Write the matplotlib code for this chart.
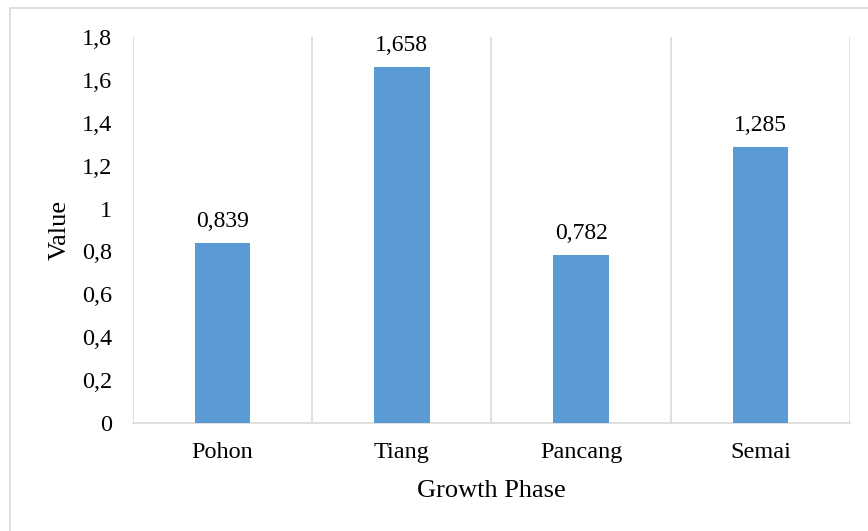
import matplotlib
matplotlib.use("Agg")
import matplotlib.pyplot as plt
from matplotlib.patches import Rectangle

categories = ["Pohon", "Tiang", "Pancang", "Semai"]
values = [0.839, 1.658, 0.782, 1.285]
yticks = [0, 0.2, 0.4, 0.6, 0.8, 1.0, 1.2, 1.4, 1.6, 1.8]

def fmt(v, nd):
    s = f"{v:.{nd}f}".replace(".", ",")
    return s

plt.rcParams['font.family'] = ['Liberation Serif', 'DejaVu Serif']

W, H = 868, 531
fig = plt.figure(figsize=(W/100, H/100), dpi=100)
# outer chart border (extends beyond the right and bottom edges)
fig.patches.append(Rectangle((10/W, -0.2), 1.2, 1.2 - 8/H, transform=fig.transFigure,
                             fill=False, edgecolor='#d9d9d9', linewidth=1.2))

L, R, T, B = 133, 850, 37, 423
ax = fig.add_axes([L/W, 1 - B/H, (R-L)/W, (B-T)/H])

x = list(range(len(categories)))
ax.bar(x, values, width=0.31, color='#5b9bd5', zorder=3)
for xi, v in zip(x, values):
    ax.text(xi, v + 0.076, fmt(v, 3), ha='center', va='baseline', fontsize=17, color='#000000')

ax.set_xlim(-0.5, len(categories) - 0.5)
ax.set_ylim(0, 1.8)
ax.set_yticks(yticks)
ax.set_yticklabels([("0" if t == 0 else ("1" if abs(t-1) < 1e-9 else fmt(t, 1))) for t in yticks], fontsize=17.5)
ax.set_xticks(x)
ax.set_xticklabels(categories, fontsize=17.5)
ax.tick_params(axis='both', length=0)
ax.tick_params(axis='x', pad=14)
ax.tick_params(axis='y', pad=15)

for b in [i - 0.5 for i in range(len(categories) + 1)]:
    ax.axvline(b, color='#d9d9d9', linewidth=1.2, zorder=1)

for s in ['top', 'right', 'left']:
    ax.spines[s].set_visible(False)
ax.spines['bottom'].set_color('#d9d9d9')
ax.spines['bottom'].set_linewidth(1.2)

ax.set_ylabel("Value", fontsize=19, labelpad=8)
ax.set_xlabel("Growth Phase", fontsize=19, labelpad=12)

fig.savefig("out.png", dpi=100)
